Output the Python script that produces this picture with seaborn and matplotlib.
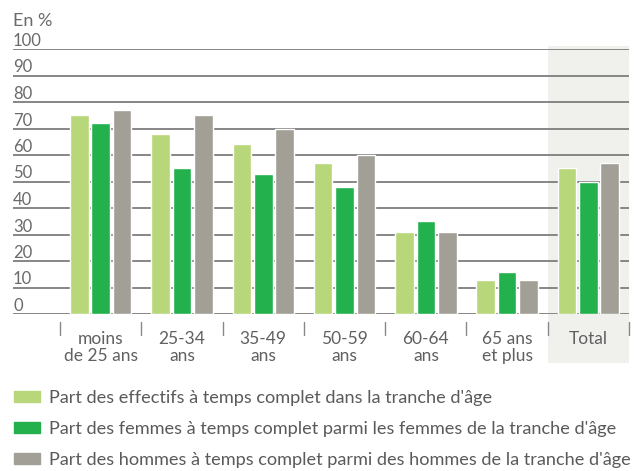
import matplotlib
matplotlib.use("Agg")
import matplotlib.pyplot as plt
import matplotlib.patches as mpatches
import seaborn as sns
import pandas as pd

# data (in %)
categories = ["moins\nde 25 ans", "25-34\nans", "35-49\nans", "50-59\nans",
              "60-64\nans", "65 ans\net plus", "Total"]
series = ["Part des effectifs à temps complet dans la tranche d'âge",
          "Part des femmes à temps complet parmi les femmes de la tranche d'âge",
          "Part des hommes à temps complet parmi des hommes de la tranche d'âge"]
effectifs = [75, 68, 64, 57, 31, 13, 55]
femmes = [72, 55, 53, 48, 35, 16, 50]
hommes = [77, 75, 70, 60, 31, 13, 57]
colors = ["#b7d77a", "#22b14c", "#a29f97"]

df = pd.DataFrame({
    "cat": categories * 3,
    "serie": [series[0]] * 7 + [series[1]] * 7 + [series[2]] * 7,
    "val": effectifs + femmes + hommes,
})

sns.set_style("white")
plt.rcParams["font.family"] = ["Lato", "DejaVu Sans"]
text_col = "#6a6a6a"
grid_col = "#7d7d7d"

fig = plt.figure(figsize=(6.44, 4.71), dpi=100)
ax = fig.add_axes([13 / 644, 157 / 471, 616 / 644, 265 / 471])

sns.barplot(data=df, x="cat", y="val", hue="serie", palette=colors,
            width=0.79, gap=0.13, saturation=1, ax=ax, legend=False,
            order=categories, hue_order=series, zorder=2)

ax.set_ylim(0, 100)
ax.set_xlim(-1.08, 6.5)
ax.set_yticks(range(0, 101, 10))
ax.set_axisbelow(True)
ax.yaxis.grid(True, color=grid_col, linewidth=1.3)
for s in ax.spines.values():
    s.set_visible(False)

ax.tick_params(axis="y", length=0, pad=0, labelsize=12, labelcolor=text_col)
for lab in ax.get_yticklabels():
    lab.set_horizontalalignment("left")
    lab.set_verticalalignment("bottom")

ax.tick_params(axis="x", length=0, pad=12, labelsize=12.5, labelcolor="#606060")
for lab in ax.get_xticklabels():
    lab.set_linespacing(1.1)
ax.set_xlabel("")
ax.set_ylabel("")

# shaded "Total" column
tr = ax.get_xaxis_transform()
ax.add_patch(mpatches.Rectangle((5.5, -0.185), 1.0, 1.195, transform=tr,
                                facecolor="#f0f0ed", edgecolor="none",
                                zorder=0, clip_on=False))

# separators between categories
for b in range(len(categories) + 1):
    ax.plot([b - 0.5, b - 0.5], [-0.03, -0.08], transform=tr,
            color="#888888", linewidth=1, clip_on=False)

fig.text(13 / 644, 1 - 21 / 471, "En %", color=text_col, fontsize=13,
         va="center", ha="left")

handles = [mpatches.Patch(color=c) for c in colors]
fig.legend(handles, series, loc="upper left", bbox_to_anchor=(0.022, 0.172),
           frameon=False, fontsize=13.1, labelcolor="#5a5a5a",
           handlelength=1.4, handleheight=0.6, handletextpad=0.5,
           labelspacing=0.82, borderpad=0, borderaxespad=0)

fig.savefig("out.png", dpi=100)
